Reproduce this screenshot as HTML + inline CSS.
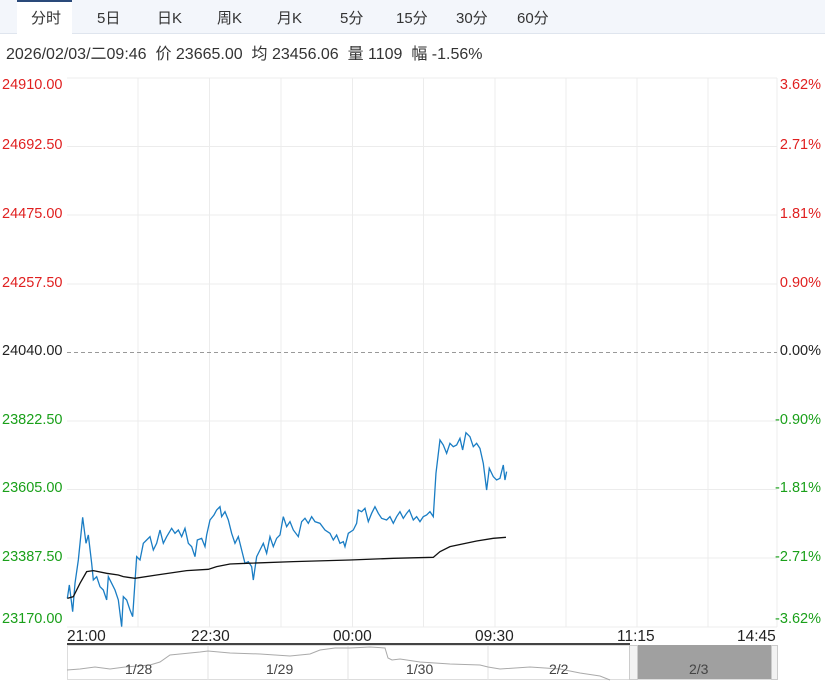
<!DOCTYPE html>
<html><head><meta charset="utf-8"><style>
body{margin:0;width:825px;height:684px;background:#fff;overflow:hidden;font-family:"Liberation Sans","Noto Sans CJK SC",sans-serif;}
.tabs{position:absolute;left:0;top:0;width:825px;height:33px;background:#f3f6fb;border-bottom:1px solid #dfe5ee;}
.tab{position:absolute;top:7px;font-size:15px;color:#333;}
.act{position:absolute;left:17px;top:0;width:55px;height:34px;background:#fff;border-top:2px solid #2a4a7a;box-sizing:border-box;}
.info{position:absolute;left:6px;top:40px;font-size:16px;color:#333;white-space:pre;}
.l{position:absolute;font-size:14.5px;}
</style></head><body>
<div class="tabs"><div class="act"></div>
<span class="tab" style="left:31px">分时</span><span class="tab" style="left:97px">5日</span><span class="tab" style="left:157px">日K</span><span class="tab" style="left:217px">周K</span><span class="tab" style="left:277px">月K</span><span class="tab" style="left:340px">5分</span><span class="tab" style="left:396px">15分</span><span class="tab" style="left:456px">30分</span><span class="tab" style="left:517px">60分</span></div>
<div class="info">2026/02/03/二09:46  价 23665.00  均 23456.06  量 1109  幅 -1.56%</div>
<svg width="825" height="684" style="position:absolute;left:0;top:0">
<g stroke="#ececec" stroke-width="1">
<line x1="67" y1="78" x2="777" y2="78"/><line x1="67" y1="146.5" x2="777" y2="146.5"/><line x1="67" y1="215" x2="777" y2="215"/><line x1="67" y1="284" x2="777" y2="284"/><line x1="67" y1="421" x2="777" y2="421"/><line x1="67" y1="489.5" x2="777" y2="489.5"/><line x1="67" y1="558" x2="777" y2="558"/><line x1="67" y1="627" x2="777" y2="627"/>
<line x1="138" y1="78" x2="138" y2="627"/><line x1="209.5" y1="78" x2="209.5" y2="627"/><line x1="281" y1="78" x2="281" y2="627"/><line x1="352.5" y1="78" x2="352.5" y2="627"/><line x1="423.5" y1="78" x2="423.5" y2="627"/><line x1="495" y1="78" x2="495" y2="627"/><line x1="566" y1="78" x2="566" y2="627"/><line x1="637" y1="78" x2="637" y2="627"/><line x1="708" y1="78" x2="708" y2="627"/><line x1="777" y1="78" x2="777" y2="627"/>
</g>
<line x1="67" y1="352.5" x2="777" y2="352.5" stroke="#999" stroke-dasharray="4,3"/>
<g transform="translate(60,410) scale(0.3333)" fill="none">
<polyline vector-effect="non-scaling-stroke" stroke="#1a7dc4" stroke-width="1.3" points="22,565 28,525 38,605 45,520 55,450 68,322 78,400 85,375 95,460 100,510 110,500 120,530 130,540 140,570 145,500 155,520 165,540 175,570 185,650 190,560 200,570 210,600 218,620 230,440 240,450 250,400 260,390 270,380 280,420 290,400 300,360 310,400 320,380 335,355 345,370 355,360 365,380 375,355 385,400 395,410 405,440 412,390 425,385 435,410 440,375 450,330 462,315 470,300 480,290 485,320 495,305 505,330 515,370 525,400 535,380 545,420 555,460 565,455 575,470 580,510 590,440 600,420 610,400 620,430 630,380 640,410 650,385 660,375 670,320 680,350 690,335 700,360 715,380 725,335 735,325 745,340 755,320 765,335 780,340 795,360 810,370 820,390 830,375 840,400 850,395 855,410 865,370 880,360 890,340 895,300 905,305 915,295 925,335 935,310 945,290 955,310 965,325 980,330 990,320 1000,340 1010,320 1020,305 1030,325 1040,310 1048,300 1060,330 1070,320 1080,335 1090,320 1100,315 1110,305 1120,320 1128,190 1140,90 1150,105 1160,130 1170,100 1180,110 1190,105 1200,85 1208,120 1218,68 1230,80 1240,110 1250,100 1260,115 1270,160 1280,240 1288,175 1300,200 1310,210 1320,205 1330,165 1335,210 1340,185"/>
<polyline vector-effect="non-scaling-stroke" stroke="#111" stroke-width="1.3" points="22,565 40,560 60,520 80,485 100,482 140,490 175,495 190,500 225,505 290,495 380,482 445,478 470,470 510,462 560,460 700,455 870,450 1000,445 1120,442 1140,425 1170,410 1250,393 1300,385 1338,382"/>
</g>
<line x1="67" y1="644" x2="630" y2="644" stroke="#444" stroke-width="2"/>
<rect x="67.5" y="645.5" width="710" height="34" fill="none" stroke="#ddd"/>
<g stroke="#e3e3e3"><line x1="208" y1="645" x2="208" y2="680"/><line x1="348" y1="645" x2="348" y2="680"/><line x1="488" y1="645" x2="488" y2="680"/></g>
<polyline fill="none" stroke="#aaa" stroke-width="1" points="67,670 80,669 95,667 110,669 125,667 150,665 160,662 170,655 180,654 200,652 208,651 230,653 260,654 290,656 310,654 320,650 335,648 350,648 370,647 385,648 388,658 392,660 400,659 420,662 450,664 480,665 488,667 500,669 530,667 560,669 580,673 600,676 610,680"/>
<rect x="638" y="645" width="133" height="34" fill="#a0a0a0"/>
<rect x="629.5" y="645.5" width="8" height="34" fill="#f3f3f3" stroke="#ccc"/>
<rect x="771.5" y="645.5" width="6" height="34" fill="#f3f3f3" stroke="#ccc"/>
<g font-size="14" fill="#444" font-family="Liberation Sans,sans-serif">
<text x="125" y="674">1/28</text><text x="266" y="674">1/29</text><text x="406" y="674">1/30</text><text x="549" y="674">2/2</text><text x="689" y="674">2/3</text>
</g>
<g font-size="15.5" fill="#222" font-family="Liberation Sans,sans-serif">
<text x="67" y="641">21:00</text><text x="191" y="641">22:30</text><text x="333" y="641">00:00</text><text x="475" y="641">09:30</text><text x="617" y="641">11:15</text><text x="737" y="641">14:45</text>
</g>
</svg>
<div class="l" style="left:2px;top:77px;color:#e02020">24910.00</div>
<div class="l" style="left:2px;top:137px;color:#e02020">24692.50</div>
<div class="l" style="left:2px;top:206px;color:#e02020">24475.00</div>
<div class="l" style="left:2px;top:275px;color:#e02020">24257.50</div>
<div class="l" style="left:2px;top:343px;color:#222">24040.00</div>
<div class="l" style="left:2px;top:412px;color:#1aa01a">23822.50</div>
<div class="l" style="left:2px;top:480px;color:#1aa01a">23605.00</div>
<div class="l" style="left:2px;top:549px;color:#1aa01a">23387.50</div>
<div class="l" style="left:2px;top:611px;color:#1aa01a">23170.00</div>
<div class="l" style="right:4px;top:77px;color:#e02020">3.62%</div>
<div class="l" style="right:4px;top:137px;color:#e02020">2.71%</div>
<div class="l" style="right:4px;top:206px;color:#e02020">1.81%</div>
<div class="l" style="right:4px;top:275px;color:#e02020">0.90%</div>
<div class="l" style="right:4px;top:343px;color:#222">0.00%</div>
<div class="l" style="right:4px;top:412px;color:#1aa01a">-0.90%</div>
<div class="l" style="right:4px;top:480px;color:#1aa01a">-1.81%</div>
<div class="l" style="right:4px;top:549px;color:#1aa01a">-2.71%</div>
<div class="l" style="right:4px;top:611px;color:#1aa01a">-3.62%</div>
</body></html>
